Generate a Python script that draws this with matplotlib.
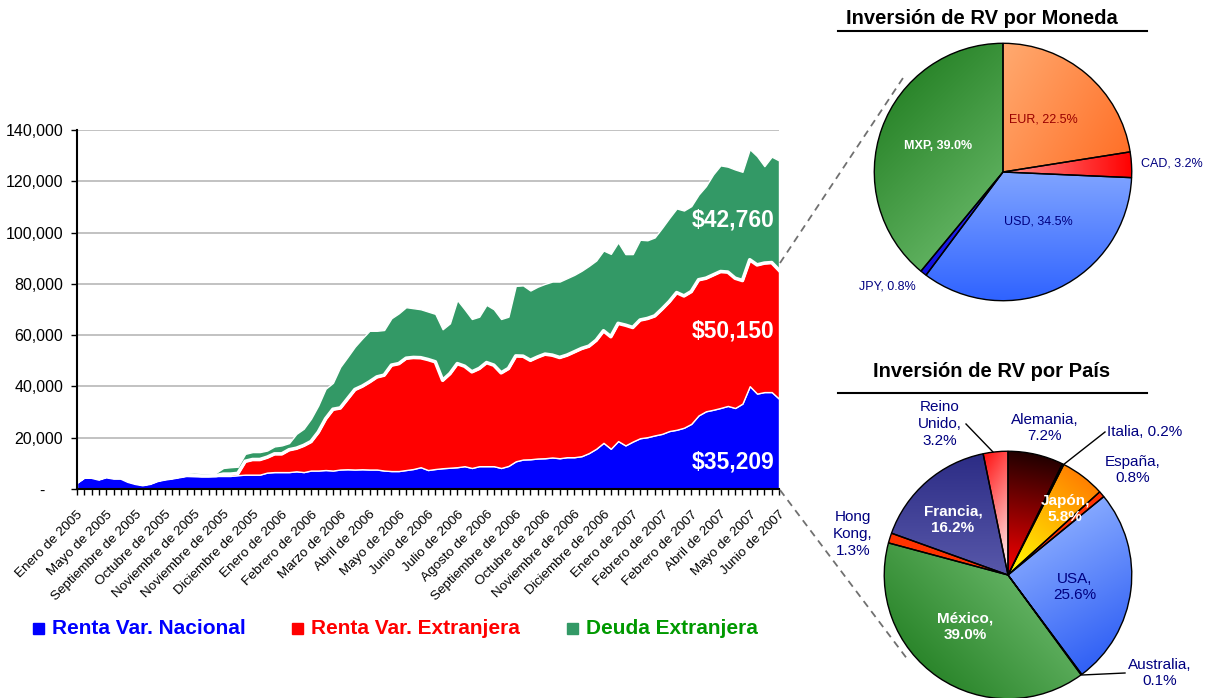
import matplotlib
matplotlib.use("Agg")
import matplotlib.pyplot as plt
from matplotlib.patches import Rectangle
from matplotlib.lines import Line2D
from matplotlib.colors import to_rgb
import numpy as np

plt.rcParams['font.family'] = ['Liberation Sans', 'DejaVu Sans']

# ---- area chart data (millones de pesos) ----
nacional = [2600, 4600, 4600, 3900, 4800, 4300, 4300, 3000, 2200, 1700,
            2200, 3300, 3900, 4300, 4800, 5300, 5200, 5100, 5100, 5100,
            5100, 5100, 5400, 5600, 5600, 5600, 6400, 6600, 6600, 6600,
            6900, 6600, 7200, 7200, 7400, 7200, 7600, 7700, 7600, 7700,
            7600, 7600, 7200, 7000, 7000, 7400, 7800, 8500, 7400, 7800,
            8100, 8300, 8500, 8900, 8200, 8900, 8900, 8900, 8200, 9000,
            10800, 11500, 11600, 11900, 12000, 12300, 12000, 12400, 12400, 12800,
            14000, 15700, 18000, 15700, 18700, 17000, 18500, 19800, 20200, 20900,
            21500, 22600, 23100, 23900, 25400, 28700, 30300, 30900, 31600, 32400,
            31600, 33300, 40100, 37200, 37800, 37800, 35209]
extranjera = [0, 0, 0, 0, 0, 0, 0, 0, 0, 0,
              0, 0, 0, 0, 0, 0, 0, 0, 0, 100,
              700, 700, 700, 5200, 5900, 5900, 6000, 7100, 7100, 8700,
              9000, 10400, 11300, 15000, 20000, 23900, 24000, 27500, 31200, 32400,
              34200, 36100, 37200, 41300, 41900, 43600, 43500, 42700, 43100, 41800,
              34300, 36700, 40400, 39000, 37500, 38100, 40400, 39400, 37100, 38000,
              41100, 40300, 38600, 39600, 40600, 39900, 39300, 39800, 41100, 42000,
              41700, 42300, 43700, 43700, 45900, 46900, 44500, 46100, 46300, 46600,
              48700, 50500, 53500, 51400, 51600, 52900, 51900, 52600, 53200, 52200,
              50600, 48000, 49300, 50200, 50300, 50500, 50150]
deuda = [0, 0, 0, 0, 0, 0, 0, 0, 0, 0,
         100, 300, 500, 700, 800, 1000, 1200, 1200, 1100, 1100,
         2400, 2700, 2600, 2900, 2900, 2900, 2600, 2900, 3300, 2600,
         5600, 6500, 8900, 10400, 11700, 10300, 16000, 16300, 16700, 18600,
         19900, 18000, 17600, 18300, 19600, 19900, 19200, 18900, 18700, 18700,
         19900, 19600, 24800, 22200, 20600, 20200, 22500, 21800, 21000, 20200,
         27300, 27600, 27200, 27400, 27400, 28700, 29600, 30000, 30000, 30300,
         31300, 31100, 31300, 32300, 31600, 27700, 28600, 31300, 30500, 30600,
         31600, 32600, 32800, 33300, 33300, 33200, 35900, 39200, 41400, 41100,
         42400, 42400, 43100, 42400, 37800, 41300, 42760]
fechas = ["Enero de 2005", "Mayo de 2005", "Septiembre de 2005", "Octubre de 2005",
          "Noviembre de 2005", "Noviembre de 2005", "Diciembre de 2005", "Enero de 2006",
          "Febrero de 2006", "Marzo de 2006", "Abril de 2006", "Mayo de 2006",
          "Junio de 2006", "Julio de 2006", "Agosto de 2006", "Septiembre de 2006",
          "Octubre de 2006", "Noviembre de 2006", "Diciembre de 2006", "Enero de 2007",
          "Febrero de 2007", "Febrero de 2007", "Abril de 2007", "Mayo de 2007",
          "Junio de 2007"]
paso_etiqueta = 4

# ---- pie data ----
monedas = ["EUR", "CAD", "USD", "JPY", "MXP"]
pct_moneda = [22.5, 3.2, 34.5, 0.8, 39.0]
# (color inicial, color final, angulo del degradado)
grad_moneda = [("#FFAA70", "#FF7028", -30), ("#FF9090", "#FF0000", 0),
               ("#80A4FF", "#2E62FF", -90), ("#3030FF", "#1010E0", -90),
               ("#2A852A", "#5EB05E", -45)]

paises = ["Alemania", "Italia", "Japón", "España", "USA", "Australia",
          "México", "Hong Kong", "Francia", "Reino Unido"]
pct_pais = [7.2, 0.2, 5.8, 0.8, 25.6, 0.1, 39.0, 1.3, 16.2, 3.2]
grad_pais = [("#200000", "#FF0000", -100), ("#FF8C00", "#FF8C00", 0),
             ("#FF8000", "#FFFF00", -130), ("#FF3300", "#FF3300", 0),
             ("#85A8FF", "#3060F5", -60), ("#3060F0", "#3060F0", 0),
             ("#2A852A", "#60B060", 45), ("#FF3300", "#FF3300", 0),
             ("#2C2C85", "#5858AA", -90), ("#FF1010", "#FFFFFF", -30)]

W, H = 1210, 698
fig = plt.figure(figsize=(W / 100, H / 100), dpi=100)


def fx(px):
    return px / W


def fy(py):
    return 1 - py / H


def relleno(ax, wedges, grads):
    # degradado lineal recortado a cada porcion
    g = np.linspace(-1, 1, 300)
    xx, yy = np.meshgrid(g, g[::-1])
    for w, (c1, c2, ang) in zip(wedges, grads):
        a = np.deg2rad(ang)
        v = w.get_patch_transform().transform(w.get_path().vertices)
        pv = v[:, 0] * np.cos(a) + v[:, 1] * np.sin(a)
        t = xx * np.cos(a) + yy * np.sin(a)
        t = np.clip((t - pv.min()) / max(pv.max() - pv.min(), 1e-6), 0, 1)
        img = (1 - t)[..., None] * np.array(to_rgb(c1)) + t[..., None] * np.array(to_rgb(c2))
        im = ax.imshow(img, extent=(-1, 1, -1, 1), aspect="auto", zorder=1,
                       interpolation="bilinear")
        im.set_clip_path(w)
        w.set_facecolor("none")
        w.set_zorder(2)


# ---- area chart ----
ax = fig.add_axes([fx(77), fy(489), fx(779) - fx(77), fy(130) - fy(489)])
x = np.arange(len(nacional))
ax.stackplot(x, nacional, extranjera, deuda,
             colors=["#0000FF", "#FF0000", "#339966"],
             edgecolor="white", linewidth=1.0)
ax.plot(x, np.add(nacional, extranjera), color="white", lw=2.6, zorder=3)
ax.set_xlim(0, len(nacional) - 1)
ax.set_ylim(0, 140000)
ax.set_yticks(range(0, 140001, 20000))
ax.set_yticklabels(["-    "] + ["{:,}".format(v) for v in range(20000, 140001, 20000)],
                   fontsize=11.5)
ax.yaxis.grid(True, color="#BDBDBD", linewidth=1.3)
ax.set_axisbelow(True)
ax.set_xticks(x, minor=True)
ax.set_xticks(x[::paso_etiqueta])
ax.set_xticklabels(fechas, rotation=45, ha="right", rotation_mode="anchor",
                   fontsize=9.7)
ax.tick_params(axis="x", which="both", length=4, width=1, direction="out", pad=10)
ax.tick_params(axis="y", length=4, width=1, pad=6)
for s in ["top", "right"]:
    ax.spines[s].set_visible(False)
ax.spines["left"].set_linewidth(1.5)
ax.spines["bottom"].set_linewidth(1.5)
for sp in ax.spines.values():
    sp.set_zorder(5)

n = len(nacional) - 1
for serie, ypos in [(deuda, 220), (extranjera, 331), (nacional, 462)]:
    fig.text(fx(733), fy(ypos), "${:,}".format(serie[n]), color="white",
             fontsize=16.5, fontweight="bold", ha="center", va="center")

# legend
leg = [("Renta Var. Nacional", "#0000FF", "#0000FF", 33),
       ("Renta Var. Extranjera", "#FF0000", "#FF0000", 292),
       ("Deuda Extranjera", "#339966", "#009900", 567)]
for txt, cbox, ctxt, x0 in leg:
    fig.patches.append(Rectangle((fx(x0), fy(634)), fx(11), fy(623) - fy(634),
                                 transform=fig.transFigure, color=cbox))
    fig.text(fx(x0 + 19), fy(629), txt, color=ctxt, fontsize=15,
             fontweight="bold", va="center", ha="left")

# ---- pie 1: moneda ----
ax1 = fig.add_axes([fx(873), fy(302), fx(260), fy(42) - fy(302)])
w1, _ = ax1.pie(pct_moneda, startangle=90, counterclock=False,
                wedgeprops=dict(edgecolor="black", linewidth=1))
relleno(ax1, w1, grad_moneda)
ax1.set_xlim(-1.01, 1.01)
ax1.set_ylim(-1.01, 1.01)
ax1.set_aspect("auto")
ax1.axis("off")

lab1 = [("EUR, 22.5%", 1043, 120, "#990000", "normal"),
        ("CAD, 3.2%", 1172, 163, "#000080", "normal"),
        ("USD, 34.5%", 1038, 222, "#000080", "normal"),
        ("JPY, 0.8%", 887, 287, "#000080", "normal"),
        ("MXP, 39.0%", 938, 146, "white", "bold")]
for t, px, py, c, w in lab1:
    fig.text(fx(px), fy(py), t, color=c, fontsize=9, fontweight=w,
             ha="center", va="center")

fig.text(fx(982), fy(18), "Inversión de RV por Moneda", fontsize=14.5,
         fontweight="bold", ha="center", va="center")
fig.add_artist(Line2D([fx(838), fx(1147)], [fy(31), fy(31)], color="black", lw=1.5))

# ---- pie 2: pais ----
ax2 = fig.add_axes([fx(883), fy(700), fx(250), fy(450) - fy(700)])
w2, _ = ax2.pie(pct_pais, startangle=90, counterclock=False,
                wedgeprops=dict(edgecolor="black", linewidth=1))
relleno(ax2, w2, grad_pais)
ax2.set_xlim(-1.01, 1.01)
ax2.set_ylim(-1.01, 1.01)
ax2.set_aspect("auto")
ax2.axis("off")

lab2 = [("Reino\nUnido,\n3.2%", 940, 424, "#000080", "normal"),
        ("Alemania,\n7.2%", 1045, 428, "#000080", "normal"),
        ("Italia, 0.2%", 1145, 432, "#000080", "normal"),
        ("España,\n0.8%", 1133, 470, "#000080", "normal"),
        ("Japón,\n5.8%", 1065, 509, "white", "bold"),
        ("USA,\n25.6%", 1075, 587, "#000080", "normal"),
        ("Australia,\n0.1%", 1160, 673, "#000080", "normal"),
        ("México,\n39.0%", 965, 627, "white", "bold"),
        ("Hong\nKong,\n1.3%", 853, 534, "#000080", "normal"),
        ("Francia,\n16.2%", 953, 520, "white", "bold")]
for t, px, py, c, w in lab2:
    fig.text(fx(px), fy(py), t, color=c, fontsize=11, fontweight=w,
             ha="center", va="center", linespacing=1.25)

for (x0, y0), (x1, y1) in [((966, 424), (993, 452)), ((1105, 432), (1063, 465)),
                           ((1125, 673), (1082, 675))]:
    fig.add_artist(Line2D([fx(x0), fx(x1)], [fy(y0), fy(y1)], color="black", lw=1))

fig.text(fx(992), fy(371), "Inversión de RV por País", fontsize=14.5,
         fontweight="bold", ha="center", va="center")
fig.add_artist(Line2D([fx(838), fx(1147)], [fy(393), fy(393)], color="black", lw=1.5))

# dashed connectors
for (x0, y0), (x1, y1) in [((780, 263), (903, 78)), ((780, 490), (908, 660))]:
    fig.add_artist(Line2D([fx(x0), fx(x1)], [fy(y0), fy(y1)], color="#707070",
                          lw=1.3, ls=(0, (4, 3))))

fig.savefig("out.png", dpi=100)
